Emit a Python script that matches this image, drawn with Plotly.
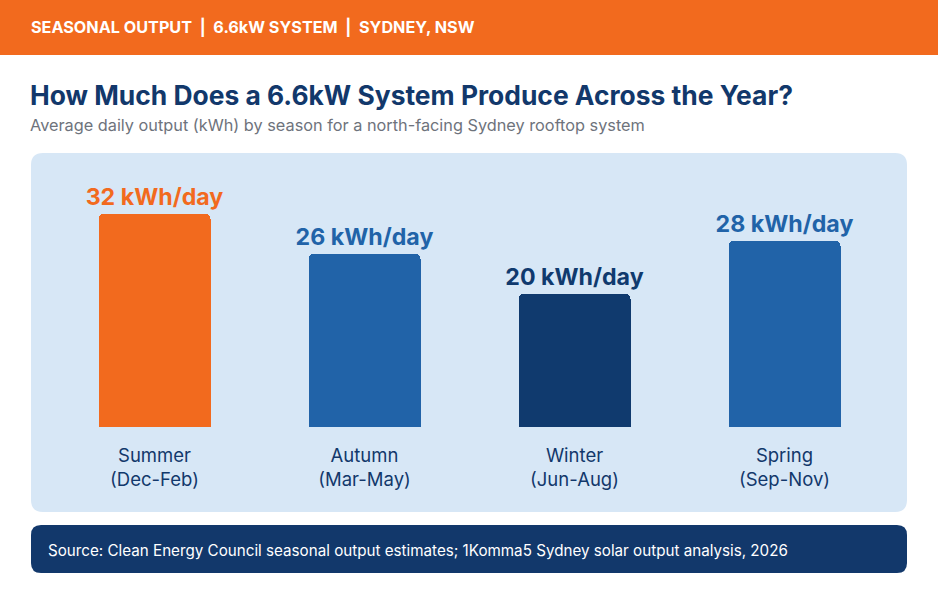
import plotly.graph_objects as go

W, H = 938, 597

seasons = ["Summer", "Autumn", "Winter", "Spring"]
months = ["(Dec-Feb)", "(Mar-May)", "(Jun-Aug)", "(Sep-Nov)"]
output_kwh = [32, 26, 20, 28]
value_labels = ["32 kWh/day", "26 kWh/day", "20 kWh/day", "28 kWh/day"]

ORANGE = "#F26A1E"
NAVY = "#12386B"
MID = "#2163A8"
WINTER = "#103A6E"
PANEL = "#D7E7F6"
GREY = "#6E737C"
bar_colors = [ORANGE, MID, WINTER, MID]
FONT = "Inter, 'Open Sans', sans-serif"

def px(x):
    return x / W

def py(y):
    return 1 - y / H

def rounded_path(x0, y0, x1, y1, r):
    def P(x, y):
        return f"{px(x):.5f},{py(y):.5f}"
    d = f"M {P(x0 + r, y0)} L {P(x1 - r, y0)} Q {P(x1, y0)} {P(x1, y0 + r)} "
    d += f"L {P(x1, y1 - r)} Q {P(x1, y1)} {P(x1 - r, y1)} "
    d += f"L {P(x0 + r, y1)} Q {P(x0, y1)} {P(x0, y1 - r)} "
    d += f"L {P(x0, y0 + r)} Q {P(x0, y0)} {P(x0 + r, y0)} Z"
    return d

ticktext = [f"{s}<br>{m}" for s, m in zip(seasons, months)]

fig = go.Figure()
fig.add_trace(go.Bar(
    x=seasons,
    y=output_kwh,
    marker=dict(color=bar_colors, cornerradius=5, line=dict(width=0)),
    width=0.53,
    text=value_labels,
    textposition="outside",
    constraintext="none",
    textfont=dict(family=FONT, size=23.2, color=bar_colors, weight=700),
    cliponaxis=False,
    hoverinfo="skip",
))

shapes = [
    dict(type="rect", xref="paper", yref="paper", x0=0, x1=1, y0=py(55), y1=1,
         fillcolor=ORANGE, line=dict(width=0), layer="below"),
    dict(type="path", xref="paper", yref="paper", path=rounded_path(31, 153, 907, 512, 12),
         fillcolor=PANEL, line=dict(width=0), layer="below"),
    dict(type="path", xref="paper", yref="paper", path=rounded_path(31, 525, 907, 573, 10),
         fillcolor=NAVY, line=dict(width=0), layer="below"),
]

annotations = [
    dict(text="SEASONAL OUTPUT &nbsp;|&nbsp; 6.6kW SYSTEM &nbsp;|&nbsp; SYDNEY, NSW", x=px(29), y=py(27),
         xref="paper", yref="paper", xanchor="left", yanchor="middle", showarrow=False,
         font=dict(family=FONT, size=16.2, color="white", weight=700)),
    dict(text="How Much Does a 6.6kW System Produce Across the Year?", x=px(28), y=py(95),
         xref="paper", yref="paper", xanchor="left", yanchor="middle", showarrow=False,
         font=dict(family=FONT, size=26.4, color=NAVY, weight=700)),
    dict(text="Average daily output (kWh) by season for a north-facing Sydney rooftop system",
         x=px(28), y=py(125), xref="paper", yref="paper", xanchor="left", yanchor="middle",
         showarrow=False, font=dict(family=FONT, size=16.3, color=GREY)),
    dict(text="Source: Clean Energy Council seasonal output estimates; 1Komma5 Sydney solar output analysis, 2026",
         x=px(46), y=py(550), xref="paper", yref="paper", xanchor="left", yanchor="middle",
         showarrow=False, font=dict(family=FONT, size=15.2, color="white")),
]

ppu = 213 / 32.0
ymax = 40
y_top_px = 427 - ymax * ppu

fig.update_layout(
    width=W, height=H,
    margin=dict(l=0, r=0, t=0, b=0),
    paper_bgcolor="white",
    plot_bgcolor="rgba(0,0,0,0)",
    showlegend=False,
    shapes=shapes,
    annotations=annotations,
    xaxis=dict(domain=[px(49.5), px(889.5)], range=[-0.5, 3.5], type="category",
               tickvals=seasons, ticktext=ticktext, showgrid=False, zeroline=False,
               showline=False, ticks="", ticklabelstandoff=15,
               tickfont=dict(family=FONT, size=18.5, color=NAVY)),
    yaxis=dict(domain=[py(427), py(y_top_px)], range=[0, ymax], visible=False,
               showgrid=False, zeroline=False),
    bargap=0,
)

fig.write_html("out.html")
